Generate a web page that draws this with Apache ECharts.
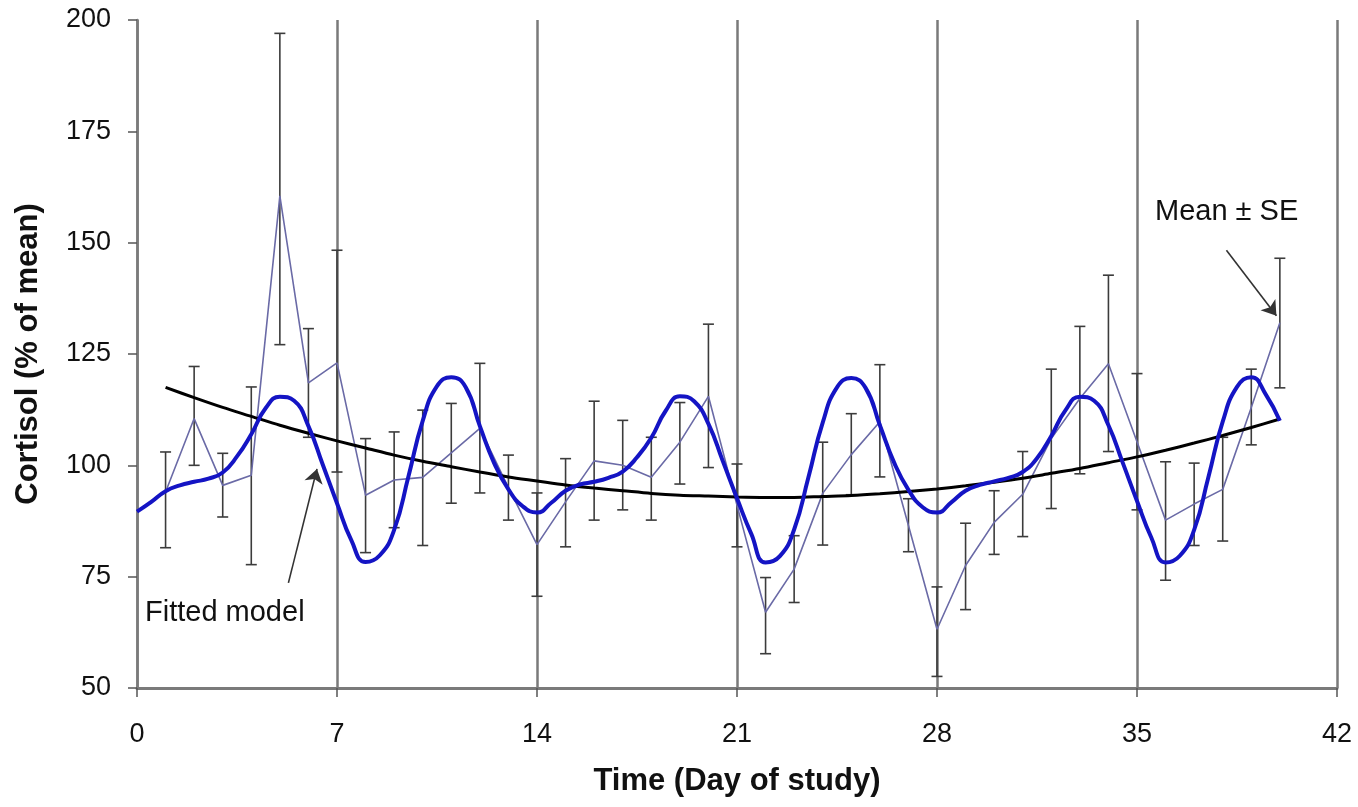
<!DOCTYPE html>
<html>
<head>
<meta charset="utf-8">
<title>Cortisol over the study period</title>
<script src="https://cdn.jsdelivr.net/npm/echarts@6/dist/echarts.min.js"></script>
<style>
  html, body { margin: 0; padding: 0; background: #ffffff; }
  #chart { width: 1358px; height: 807px; }
</style>
</head>
<body>
<div id="chart"></div>
<script>
// Daily cortisol, % of individual mean (days 1–40)
const days = [1,2,3,4,5,6,7,8,9,10,11,12,13,14,15,16,17,18,19,20,21,22,23,24,25,26,27,28,29,30,31,32,33,34,35,36,37,38,39,40];
const meanValues = [94, 110.5, 95.5, 97.8, 160.5, 118.5, 123, 93.3, 96.7, 97.3,
                    102.8, 108.3, 95, 82.2, 91.8, 101, 100, 97.3, 105.2, 115.5,
                    91, 67, 76.7, 93.7, 102.4, 109.8, 86.5, 63.2, 77.5, 87.2,
                    93.5, 106, 115, 122.8, 105.3, 87.7, 91.3, 94.6, 113, 132];
const seLow  = [81.5, 100, 88.4, 77.7, 127.1, 106.3, 98.5, 80.4, 86, 82,
                91.5, 93.8, 87.7, 70.6, 81.7, 87.7, 90, 87.7, 95.8, 99.5,
                81.7, 57.7, 69.2, 82.1, 93.4, 97.4, 80.6, 52.6, 67.6, 80,
                84, 90.3, 98.1, 103.1, 90, 74.2, 82, 83, 104.6, 117.4];
const seHigh = [103, 122.2, 102.7, 117.6, 197, 130.7, 148.3, 106, 107.5, 112.4,
                113.9, 122.9, 102.3, 93.8, 101.5, 114.4, 110.1, 106.3, 114.1, 131.7,
                100.3, 74.8, 84.2, 105.2, 111.6, 122.6, 92.5, 72.7, 87, 94.3,
                103.1, 121.6, 131.2, 142.7, 120.6, 100.8, 100.5, 106.3, 121.6, 146.5];

// Long-term trend, one value per day (days 1–40)
const trendValues = [117.5, 115.2, 113.0, 111.0, 109.0, 107.2, 105.5, 103.9, 102.3, 100.9,
                     99.7, 98.5, 97.4, 96.5, 95.6, 94.9, 94.3, 93.7, 93.3, 93.1,
                     92.9, 92.8, 92.8, 93.0, 93.2, 93.6, 94.1, 94.7, 95.4, 96.2,
                     97.1, 98.2, 99.3, 100.6, 101.9, 103.4, 105.0, 106.7, 108.5, 110.4];

// Fitted rhythmic model, sampled every half day from day 0 to day 40
const modelStep = 0.5;
const modelValues = [
  89.6, 91.8, 94.2, 95.5, 96.3, 97.0, 98.4, 102.0, 107.0, 112.8, 115.4, 114.5, 108.8, 100.2,
  91.5, 83.2, 78.3, 79.8, 85.5, 97.5, 110.0, 117.8, 119.8, 117.6, 108.8, 100.5, 94.6, 90.8,
  89.4, 91.6, 94.3, 95.7, 96.3, 97.2, 98.6, 101.8, 106.2, 112.2, 115.5, 114.4, 109.3, 101.0,
  92.6, 84.6, 78.2, 79.6, 85.6, 97.3, 109.6, 117.5, 119.6, 117.4, 109.0, 100.6, 94.5, 90.6,
  89.4, 91.7, 94.3, 95.6, 96.4, 97.2, 98.5, 101.6, 106.6, 112.4, 115.4, 114.5, 109.0, 100.6,
  92.0, 83.8, 78.2, 79.7, 85.5, 97.4, 109.8, 117.6, 119.8, 116.0, 110.0
];

// Axis ticks
const xTicks = [0, 7, 14, 21, 28, 35, 42];
const yTicks = [50, 75, 100, 125, 150, 175, 200];

const FONT = '"Liberation Sans", Arial, Helvetica, sans-serif';

const meanData = days.map((d, i) => [d, meanValues[i]]);
const errorData = days.map((d, i) => [d, seLow[i], seHigh[i]]);
const trendData = days.map((d, i) => [d, trendValues[i]]);
const modelData = modelValues.map((v, i) => [i * modelStep, v]);

const chart = echarts.init(document.getElementById('chart'), null, { renderer: 'canvas' });

const option = {
  backgroundColor: '#ffffff',
  animation: false,
  grid: { left: 137, right: 21, top: 20, bottom: 119, containLabel: false },
  xAxis: {
    type: 'value',
    min: xTicks[0],
    max: xTicks[xTicks.length - 1],
    interval: 7,
    name: 'Time (Day of study)',
    nameLocation: 'middle',
    nameGap: 78,
    nameTextStyle: { fontFamily: FONT, fontWeight: 'bold', fontSize: 31, color: '#111' },
    axisLine: { show: true, lineStyle: { color: '#7a7a7a', width: 3 } },
    axisTick: { show: true, inside: false, length: 9, lineStyle: { color: '#555', width: 1.5 } },
    axisLabel: { fontFamily: FONT, fontSize: 27, color: '#111', margin: 33 },
    splitLine: { show: true, lineStyle: { color: '#7a7a7a', width: 2.5 } }
  },
  yAxis: {
    type: 'value',
    min: yTicks[0],
    max: yTicks[yTicks.length - 1],
    interval: 25,
    name: 'Cortisol (% of mean)',
    nameLocation: 'middle',
    nameGap: 93,
    nameTextStyle: { fontFamily: FONT, fontWeight: 'bold', fontSize: 31, color: '#111' },
    axisLine: { show: true, lineStyle: { color: '#7a7a7a', width: 2.5 } },
    axisTick: { show: true, inside: false, length: 9, lineStyle: { color: '#555', width: 1.5 } },
    axisLabel: { fontFamily: FONT, fontSize: 27, color: '#111', margin: 26 },
    splitLine: { show: false }
  },
  series: [
    {
      // standard-error bars with caps
      name: 'SE',
      type: 'custom',
      data: errorData,
      z: 2,
      renderItem: function (params, api) {
        const x = api.value(0);
        const lo = api.coord([x, api.value(1)]);
        const hi = api.coord([x, api.value(2)]);
        const cap = 5.5;
        const style = { stroke: '#3c3c3c', lineWidth: 1.6 };
        return {
          type: 'group',
          children: [
            { type: 'line', shape: { x1: lo[0], y1: lo[1], x2: hi[0], y2: hi[1] }, style: style },
            { type: 'line', shape: { x1: lo[0] - cap, y1: lo[1], x2: lo[0] + cap, y2: lo[1] }, style: style },
            { type: 'line', shape: { x1: hi[0] - cap, y1: hi[1], x2: hi[0] + cap, y2: hi[1] }, style: style }
          ]
        };
      }
    },
    {
      name: 'Mean',
      type: 'line',
      data: meanData,
      z: 3,
      symbol: 'none',
      lineStyle: { color: '#6a6aa6', width: 1.6 },
      markLine: {
        silent: true,
        symbol: ['none', 'arrow'],
        symbolSize: 14,
        label: { show: false },
        lineStyle: { color: '#333', width: 1.6, type: 'solid' },
        itemStyle: { color: '#111' },
        emphasis: { disabled: true },
        data: [
          [{ coord: [5.3, 73.6] }, { coord: [6.3, 99.2] }],
          [{ coord: [38.13, 148.3] }, { coord: [39.88, 133.6] }]
        ]
      }
    },
    {
      name: 'Trend',
      type: 'line',
      data: trendData,
      z: 4,
      smooth: 0.3,
      symbol: 'none',
      lineStyle: { color: '#000000', width: 3 }
    },
    {
      name: 'Fitted model',
      type: 'line',
      data: modelData,
      z: 5,
      smooth: 0.5,
      symbol: 'none',
      lineStyle: { color: '#1414c4', width: 4 }
    }
  ],
  graphic: [
    {
      type: 'text', left: 145, top: 598,
      style: { text: 'Fitted model', font: '29px ' + FONT, fill: '#111' }
    },
    {
      type: 'text', left: 1155, top: 197,
      style: { text: 'Mean ± SE', font: '29px ' + FONT, fill: '#111' }
    }
  ]
};

chart.setOption(option);
</script>
</body>
</html>
